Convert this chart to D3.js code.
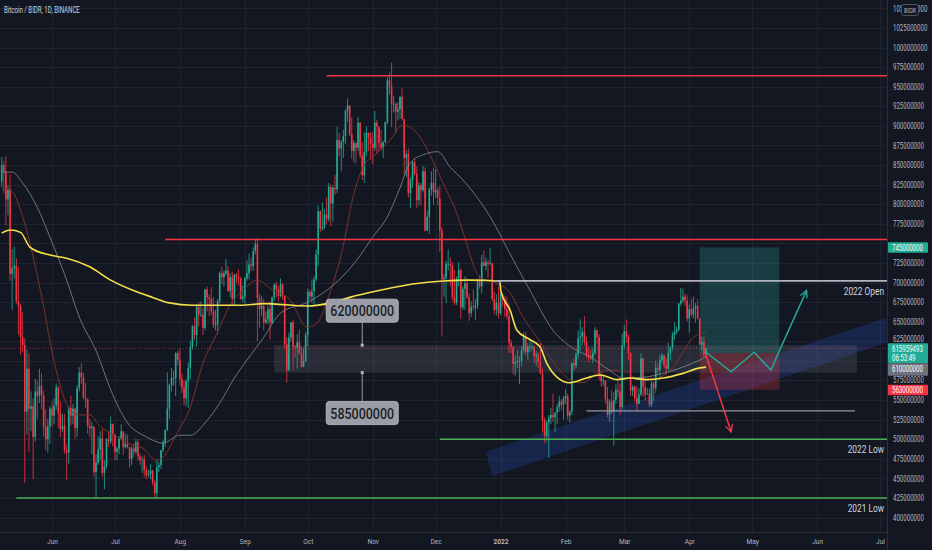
<!DOCTYPE html>
<html><head><meta charset="utf-8">
<script src="https://cdn.jsdelivr.net/npm/d3@7"></script>
<style>
html,body{margin:0;padding:0;background:#131722;}
svg{display:block;font-family:Roboto,"Noto Sans",sans-serif;}
</style></head><body>
<svg id="c" width="932" height="550"></svg>
<script>
// ---------------- DATA (values in millions of BIDR) ----------------
const title = "Bitcoin / BIDR, 1D, BINANCE";
const startDate = "2021-05-08";
const firstOpen = 829;
const closes = [
 850,841,806,819,711,718,721,676,670,630,620,535,590,539,542,503,561,555,568,556,516,500,516,539,
 530,543,566,533,513,517,486,483,540,530,539,514,565,585,579,553,551,517,514,516,458,470,487,501,457,465,500,497,519,506,
 484,488,501,510,490,494,490,475,488,484,496,478,473,474,460,454,455,460,445,431,464,467,486,496,512,539,569,578,578,610,601,
 577,566,552,574,591,618,644,633,669,659,659,642,691,681,679,663,646,646,676,712,707,712,715,689,707,679,710,707,705,679,682,
 705,712,723,721,740,749,680,666,670,649,653,666,649,681,697,691,683,698,683,621,588,630,649,618,617,624,610,592,600,633,
 688,682,689,704,736,791,769,771,787,781,822,801,821,819,882,871,879,887,919,926,889,868,878,872,904,862,837,867,891,885,877,
 872,904,899,878,872,879,905,958,950,928,928,918,921,937,909,859,864,814,831,854,839,805,824,818,842,766,784,819,827,815,
 818,808,766,704,706,724,724,722,681,674,705,716,668,692,699,681,661,669,668,671,701,695,726,721,726,724,725,679,665,674,661,
 684,679,666,657,623,618,596,598,600,600,613,630,611,618,618,618,606,608,598,584,524,504,521,527,531,528,534,541,548,544,552,
 555,530,535,597,594,608,629,631,637,624,608,606,604,610,639,630,581,574,575,551,531,548,535,550,563,561,541,620,
 638,631,610,562,567,552,545,557,603,567,557,558,544,571,565,591,588,601,607,594,590,610,617,633,637,640,673,677,682,677,654,
 666,659,667,670,654,621,624,608,615.96];
const highs = [
 860,855,861,824,838,743,746,731,720,673,662,629,614,610,561,552,577,575,590,584,562,538,526,542,
 548,552,571,568,548,532,532,493,542,555,545,540,569,592,597,585,572,552,526,522,516,481,504,510,513,473,501,510,529,520,
 506,490,504,519,510,507,506,490,491,494,500,500,481,478,480,465,461,468,461,448,474,471,486,499,512,585,571,591,587,611,613,
 616,584,575,577,598,626,646,655,672,675,676,668,692,695,685,694,681,665,679,714,720,715,730,721,712,714,711,712,717,707,696,
 707,728,737,731,745,756,757,685,683,679,663,670,676,682,699,701,695,705,699,683,630,636,649,652,620,634,640,618,616,637,
 692,691,704,708,742,798,792,802,794,809,827,825,824,837,899,891,882,895,921,935,925,911,882,879,911,905,879,892,899,891,892,
 892,919,908,899,895,881,905,962,968,981,938,930,930,938,948,909,869,871,835,855,858,848,828,827,849,847,791,821,842,847,
 845,821,824,771,711,728,742,732,726,716,708,726,718,695,708,706,686,676,691,679,705,709,735,741,732,729,744,725,688,685,694,
 687,687,683,682,674,627,618,607,614,606,619,636,637,623,629,624,620,613,611,624,590,528,524,531,540,558,534,545,555,551,555,
 564,558,537,598,603,611,639,653,643,657,631,617,614,616,643,640,634,587,581,575,567,551,563,560,570,574,571,634,
 646,653,634,611,569,568,568,565,610,604,578,565,565,574,574,600,597,608,610,608,604,623,618,637,649,644,674,693,692,686,684,
 672,679,682,674,679,654,631,631,617];
const lows = [
 822,814,773,786,702,665,705,673,633,608,611,444,506,484,510,449,497,526,546,538,503,486,483,494,
 516,519,538,514,503,510,481,448,468,517,519,500,503,561,571,551,540,507,503,481,452,425,467,473,452,436,462,490,494,491,
 473,473,481,500,480,488,488,464,467,477,481,473,467,457,451,449,451,449,441,424,426,458,462,483,490,510,526,561,568,555,594,
 569,559,543,542,540,577,614,627,618,644,656,633,639,663,657,659,642,639,634,673,698,695,709,688,681,670,670,699,696,678,675,
 673,702,704,715,715,736,625,642,657,639,647,647,627,647,676,681,676,681,678,616,572,587,624,588,604,590,608,592,592,598,
 619,678,674,671,701,721,764,766,768,774,778,772,778,812,814,861,842,859,877,905,887,858,854,852,868,859,831,827,861,868,857,
 851,868,864,868,869,859,878,902,940,898,917,891,907,909,907,838,835,808,795,821,837,795,798,799,815,765,766,762,811,799,
 808,798,739,631,682,674,715,695,676,671,671,695,654,665,665,679,651,656,664,652,666,692,686,721,715,706,722,676,659,658,654,
 658,669,656,653,610,610,583,581,591,570,593,610,607,601,611,613,597,593,591,583,509,495,497,476,519,522,509,519,535,537,525,
 545,525,521,531,588,590,603,613,620,620,603,598,601,597,608,621,575,567,568,545,528,522,532,492,545,554,531,538,
 615,623,601,555,555,548,535,545,555,554,549,557,541,541,548,559,582,577,597,591,582,588,601,613,627,634,638,670,674,670,650,
 636,656,654,649,653,620,614,605,605];

// moving-average style lines, sampled as [day index from startDate, value]
const yellowLine = [[0,763],[4,767],[9,764],[13.5,745],[23,735],[31,731],[42,720],[52,703],[62.6,690],[72,681],[80,674],[91,671],[114,671],[125,673],[146,670],[157,674],[166,681],[180.5,690],[196,698],[210.5,702],[223,703],[237.5,702],[238.2,688],[242.5,665],[245.8,639],[252,627],[256.8,618],[260,597],[265,579],[271,572],[279,578],[285.4,582],[293.6,576],[299.8,578],[307.9,576],[315.5,578],[325,584],[333,591],[336,592]];
const grayLine = [[0,841],[5,841],[10,827],[17,796],[23,758],[31,703],[37,656],[45.5,610],[52,563],[60,521],[69,503],[77,495],[85,505],[90,505],[98,524],[104,546],[111,578],[117,601],[125,630],[133,661],[146,675],[157,694],[169.5,729],[177,758],[184,784],[189,814],[195,853],[201,863],[208,867],[214,847],[220,831],[233,784],[244,729],[252,690],[263,639],[272.6,616],[280.7,605],[290,588],[296.4,578],[306,579],[315.5,584],[325,592],[333,601],[336,605]];
const brownLine = [[0,821],[5,816],[10,784],[15,733],[20,669],[24.5,605],[29,559],[32.6,537],[37,531],[42,531],[47,516],[52,508],[60,495],[67,489],[74,473],[77,477],[83.6,508],[90,541],[96,597],[102.7,635],[110.4,678],[114,687],[122,703],[129.4,690],[137.5,678],[145.7,643],[150.4,648],[156.6,687],[162.8,745],[167.6,809],[172.4,847],[179,865],[185.3,882],[191.5,901],[198,891],[204.3,863],[210.5,827],[217,789],[220,765],[228,707],[236,699],[242.5,687],[248.7,656],[255.4,630],[265,592],[271,576],[277.3,572],[284,584],[290,588],[298.3,586],[303,576],[312.6,578],[320.3,592],[330,630],[336,637]];

// axes
const yTicks = d3.range(400, 1051, 25);
const monthDates = ["2021-06-01","2021-07-01","2021-08-01","2021-09-01","2021-10-01","2021-11-01","2021-12-01","2022-01-01","2022-02-01","2022-03-01","2022-04-01","2022-05-01","2022-06-01","2022-07-01"];
const monthLabels = ["Jun","Jul","Aug","Sep","Oct","Nov","Dec","2022","Feb","Mar","Apr","May","Jun","Jul"];

// drawings
const redLevels = [964, 755];
const redStarts = ["2021-10-10", "2021-07-25"];
const greenLevels = [500, 425];
const greenStarts = ["2021-12-03", "2021-05-15"];
const greenNames = ["2022 Low", "2021 Low"];
const openLevel = 702, openStart = "2021-12-29", openName = "2022 Open";
const floorLevel = 536, floorDates = ["2022-02-11", "2022-06-19"];
const zoneValues = [585, 620], zoneDates = ["2021-09-15", "2022-06-20"];
const calloutDate = "2021-10-27";
const channelDates = ["2021-12-25", "2022-07-04", "2022-07-04", "2021-12-28"];
const channelValues = [484, 655, 623, 453];
const positionDates = ["2022-04-06", "2022-05-14"];
const entry = 610, target = 745, stop = 563;
const bullDates = ["2022-04-09","2022-04-21","2022-05-02","2022-05-10","2022-05-13","2022-05-27"];
const bullValues = [611, 586, 611, 588, 607, 690];
const bearDates = ["2022-04-09", "2022-04-21"];
const bearValues = [607, 509];
const lastPrice = 615.959493, countdown = "06:53:49";

// ---------------- CHART ----------------
const W = 932, H = 550, plotR = 887, plotB = 532;
const svg = d3.select("#c");
const parse = d3.utcParse("%Y-%m-%d");
const t0 = parse(startDate);
const dayF = i => new Date(t0.getTime() + i * 864e5);
const x = d3.scaleUtc().domain([parse("2021-06-01"), parse("2022-07-01")]).range([52, 880]);
const y = d3.scaleLinear().domain([400, 1000]).range([517.5, 47.5]);
const X = s => x(parse(s));
const FONT = "Roboto,'Noto Sans',sans-serif";

svg.append("rect").attr("width", W).attr("height", H).attr("fill", "#131722");
svg.append("defs").append("clipPath").attr("id", "plot")
  .append("rect").attr("x", 0).attr("y", 0).attr("width", plotR).attr("height", plotB);

// grid
const grid = svg.append("g").attr("clip-path", "url(#plot)");
grid.selectAll(".hg").data(yTicks).join("line")
  .attr("x1", 0).attr("x2", plotR).attr("y1", d => Math.round(y(d)) + 0.5).attr("y2", d => Math.round(y(d)) + 0.5)
  .attr("stroke", "#1f2330").attr("stroke-width", 1);
grid.selectAll(".vg").data(monthDates).join("line")
  .attr("x1", d => Math.round(X(d)) + 0.5).attr("x2", d => Math.round(X(d)) + 0.5).attr("y1", 0).attr("y2", plotB)
  .attr("stroke", "#1f2330").attr("stroke-width", 1);

const plot = svg.append("g").attr("clip-path", "url(#plot)");

// blue channel
plot.append("polygon")
  .attr("points", channelDates.map((d, i) => [X(d), y(channelValues[i])].join(",")).join(" "))
  .attr("fill", "rgba(38,78,200,0.25)");

// gray zone
plot.append("rect")
  .attr("x", X(zoneDates[0])).attr("width", X(zoneDates[1]) - X(zoneDates[0]))
  .attr("y", y(zoneValues[1])).attr("height", y(zoneValues[0]) - y(zoneValues[1]))
  .attr("fill", "rgba(120,123,134,0.22)");

// position box
const px0 = X(positionDates[0]), px1 = X(positionDates[1]);
plot.append("rect").attr("x", px0).attr("width", px1 - px0)
  .attr("y", y(target)).attr("height", y(entry) - y(target)).attr("fill", "rgba(38,166,154,0.26)");
plot.append("rect").attr("x", px0).attr("width", px1 - px0)
  .attr("y", y(entry)).attr("height", y(stop) - y(entry)).attr("fill", "rgba(242,54,69,0.26)");

// candles
const candles = closes.map((c, i) => ({
  d: dayF(i), c, o: i ? closes[i - 1] : firstOpen, h: highs[i], l: lows[i]
}));
const up = "#22ab94", dn = "#f23645";
const cg = plot.append("g");
cg.selectAll("line").data(candles).join("line")
  .attr("x1", d => x(d.d)).attr("x2", d => x(d.d))
  .attr("y1", d => y(Math.max(d.h, d.o, d.c))).attr("y2", d => y(Math.min(d.l, d.o, d.c)))
  .attr("stroke", d => d.c >= d.o ? up : dn).attr("stroke-width", 0.8);
cg.selectAll("rect").data(candles).join("rect")
  .attr("x", d => x(d.d) - 0.8).attr("width", 1.6)
  .attr("y", d => y(Math.max(d.o, d.c)))
  .attr("height", d => Math.max(0.8, Math.abs(y(d.o) - y(d.c))))
  .attr("fill", d => d.c >= d.o ? up : dn);

// MA lines
const maLine = d3.line().x(p => x(dayF(p[0]))).y(p => y(p[1])).curve(d3.curveMonotoneX);
plot.append("path").attr("d", maLine(brownLine)).attr("fill", "none").attr("stroke", "#7a3428").attr("stroke-width", 1);
plot.append("path").attr("d", maLine(grayLine)).attr("fill", "none").attr("stroke", "#868993").attr("stroke-opacity", 0.8).attr("stroke-width", 1);
plot.append("path").attr("d", maLine(yellowLine)).attr("fill", "none").attr("stroke", "#f5e04a").attr("stroke-width", 1.6);

// current price line
plot.append("line").attr("x1", 0).attr("x2", plotR)
  .attr("y1", y(lastPrice)).attr("y2", y(lastPrice))
  .attr("stroke", "#f23645").attr("stroke-opacity", 0.6).attr("stroke-width", 1).attr("stroke-dasharray", "1,2");

// horizontal levels
const hline = (v, s, e, col, w) => plot.append("line")
  .attr("x1", X(s)).attr("x2", e ? X(e) : plotR).attr("y1", y(v)).attr("y2", y(v))
  .attr("stroke", col).attr("stroke-width", w);
redLevels.forEach((v, i) => hline(v, redStarts[i], null, "#f23645", 1.5));
greenLevels.forEach((v, i) => hline(v, greenStarts[i], null, "#4caf50", 1.5));
hline(openLevel, openStart, null, "#b2b5be", 1.8);
hline(floorLevel, floorDates[0], floorDates[1], "#9598a1", 1.2);

// arrows
const defs = svg.select("defs");
const mk = (id, col) => defs.append("marker").attr("id", id).attr("viewBox", "0 0 10 10")
  .attr("refX", 9).attr("refY", 5).attr("markerWidth", 9).attr("markerHeight", 9)
  .attr("markerUnits", "userSpaceOnUse").attr("orient", "auto")
  .append("path").attr("d", "M1,1 L9,5 L1,9").attr("fill", "none").attr("stroke", col).attr("stroke-width", 1.5);
mk("ahT", "#26a69a"); mk("ahR", "#f23645");
const pl = d3.line().x(d => X(d[0])).y(d => y(d[1]));
plot.append("path").attr("d", pl(bullDates.map((d, i) => [d, bullValues[i]])))
  .attr("fill", "none").attr("stroke", "#26a69a").attr("stroke-width", 1.5).attr("marker-end", "url(#ahT)");
plot.append("path").attr("d", pl(bearDates.map((d, i) => [d, bearValues[i]])))
  .attr("fill", "none").attr("stroke", "#f23645").attr("stroke-width", 1.5).attr("marker-end", "url(#ahR)");

// text helper: horizontally condensed text via transform
const stxt = (g, s, tx, ty, size, fill, anchor, sx) => g.append("text")
  .attr("transform", `translate(${tx},${ty}) scale(${sx || 1},1)`)
  .attr("font-size", size).attr("font-family", FONT).attr("fill", fill)
  .attr("text-anchor", anchor || "start").text(s);

stxt(svg, openName, plotR - 3, y(openLevel) + 14, 11, "#d1d4dc", "end", 0.76);
greenNames.forEach((n, i) => stxt(svg, n, plotR - 3, y(greenLevels[i]) + 14, 11, "#d1d4dc", "end", 0.76));

// callouts
const cx = X(calloutDate);
const callout = (v, boxTop, lineFrom, lineTo) => {
  svg.append("line").attr("x1", cx).attr("x2", cx).attr("y1", lineFrom).attr("y2", lineTo)
    .attr("stroke", "#9598a1").attr("stroke-width", 1);
  svg.append("rect").attr("x", cx - 1.5).attr("y", y(v) - 1.5).attr("width", 3).attr("height", 3).attr("fill", "#b2b5be");
  svg.append("rect").attr("x", cx - 36).attr("y", boxTop).attr("width", 72).attr("height", 23).attr("rx", 3)
    .attr("fill", "#9a9da6").attr("stroke", "#c3c5cb").attr("stroke-width", 0.8);
  stxt(svg, d3.format("d")(v * 1e6), cx, boxTop + 17, 14.5, "#1a1d27", "middle", 0.86).attr("font-weight", 500);
};
callout(zoneValues[1], y(zoneValues[1]) - 46, y(zoneValues[1]) - 23, y(zoneValues[1]));
callout(zoneValues[0], y(zoneValues[0]) + 29, y(zoneValues[0]), y(zoneValues[0]) + 29);

// borders
svg.append("line").attr("x1", plotR + 0.5).attr("x2", plotR + 0.5).attr("y1", 0).attr("y2", H).attr("stroke", "#2a2e39");
svg.append("line").attr("x1", 0).attr("x2", plotR).attr("y1", plotB + 0.5).attr("y2", plotB + 0.5).attr("stroke", "#2a2e39");

// right axis
const tagTops = [y(target) - 5, y(lastPrice) - 5, y(lastPrice) + 15, y(stop) - 5];
const tagHeights = [10.5, 20, 12.5, 10.5];
const AX = 0.72;
const ya = svg.append("g").attr("transform", `translate(${plotR + 2},0)`)
  .call(d3.axisRight(y).tickValues(yTicks).tickFormat(v => d3.format("d")(v * 1e6)).tickSize(0).tickPadding(4));
ya.select(".domain").remove();
ya.selectAll("text").attr("fill", "#b2b5be").attr("font-size", 8.5).attr("font-family", FONT)
  .attr("x", 4 / AX).attr("transform", d => {
    // nudge a label up if it only grazes the top of a tag (as the price scale does)
    const yy = y(d);
    let dy = 0;
    tagTops.forEach((t, i) => { if (yy < t + 1 && yy > t - 8) dy = (t - 5) - yy; });
    return `translate(0,${dy}) scale(${AX},1)`;
  })
  .attr("display", d => tagTops.some((t, i) => y(d) >= t + 1 && y(d) <= t + tagHeights[i] + 3) ? "none" : null);

// price-axis tags
const tag = (top, h, fill, lines) => {
  svg.append("rect").attr("x", plotR + 1).attr("y", top).attr("width", 40).attr("height", h).attr("fill", fill).attr("rx", 1);
  lines.forEach((s, i) => stxt(svg, s, plotR + 5, top + 8.3 + i * 9.3, 8.5, "#ffffff", "start", AX));
};
tag(tagTops[0], tagHeights[0], "#22ab94", [d3.format("d")(target * 1e6)]);
tag(tagTops[1], tagHeights[1], "#22ab94", [d3.format("d")(Math.round(lastPrice * 1e6)), countdown]);
tag(tagTops[2], tagHeights[2], "#6f727d", [d3.format("d")(entry * 1e6)]);
tag(tagTops[3], tagHeights[3], "#f23645", [d3.format("d")(stop * 1e6)]);

// currency box
svg.append("rect").attr("x", 901.5).attr("y", 4.5).attr("width", 17).attr("height", 11).attr("rx", 2)
  .attr("fill", "#131722").attr("stroke", "#50535e");
stxt(svg, "BIDR", 910, 12.8, 7, "#b2b5be", "middle", 0.8);

// bottom axis
const xa = svg.append("g").attr("transform", `translate(0,${plotB})`)
  .call(d3.axisBottom(x).tickValues(monthDates.map(parse)).tickFormat((d, i) => monthLabels[i]).tickSize(0).tickPadding(6));
xa.select(".domain").remove();
xa.selectAll("text").attr("fill", "#b2b5be").attr("font-size", 8).attr("font-family", FONT)
  .attr("font-weight", (d, i) => monthLabels[i] === "2022" ? 700 : 400)
  .attr("transform", "scale(0.82,1)");

// title
stxt(svg, title, 4, 13, 8.5, "#d1d4dc", "start", 0.72);
</script>
</body></html>
